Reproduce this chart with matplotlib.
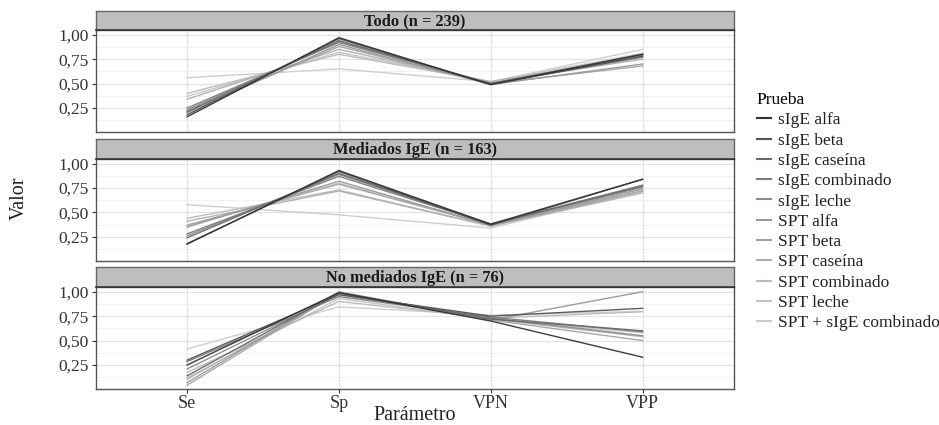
import numpy as np
import matplotlib
matplotlib.use("Agg")
import matplotlib.pyplot as plt
from matplotlib.lines import Line2D

plt.rcParams['font.family'] = ['Liberation Serif', 'DejaVu Serif']

parametros = ["Se", "Sp", "VPN", "VPP"]
pruebas = ["sIgE alfa", "sIgE beta", "sIgE caseína", "sIgE combinado", "sIgE leche",
           "SPT alfa", "SPT beta", "SPT caseína", "SPT combinado", "SPT leche",
           "SPT + sIgE combinado"]
paneles = ["Todo (n = 239)", "Mediados IgE (n = 163)", "No mediados IgE (n = 76)"]

todo = [
    [0.16, 0.97, 0.49, 0.80],
    [0.18, 0.96, 0.49, 0.78],
    [0.21, 0.94, 0.50, 0.80],
    [0.25, 0.92, 0.50, 0.77],
    [0.23, 0.93, 0.50, 0.79],
    [0.20, 0.90, 0.49, 0.70],
    [0.22, 0.88, 0.50, 0.68],
    [0.34, 0.85, 0.51, 0.75],
    [0.40, 0.80, 0.52, 0.78],
    [0.37, 0.82, 0.52, 0.81],
    [0.56, 0.65, 0.52, 0.85],
]
mediados = [
    [0.175, 0.93, 0.38, 0.84],
    [0.18, 0.92, 0.37, 0.84],
    [0.24, 0.90, 0.38, 0.77],
    [0.28, 0.87, 0.38, 0.78],
    [0.26, 0.89, 0.38, 0.76],
    [0.35, 0.82, 0.37, 0.74],
    [0.37, 0.79, 0.37, 0.72],
    [0.41, 0.72, 0.36, 0.70],
    [0.44, 0.73, 0.36, 0.72],
    [0.36, 0.80, 0.37, 0.75],
    [0.58, 0.475, 0.34, 0.72],
]
no_mediados = [
    [0.25, 0.99, 0.70, 0.33],
    [0.30, 0.97, 0.75, 0.83],
    [0.14, 0.99, 0.72, 0.60],
    [0.285, 0.95, 0.74, 0.59],
    [0.21, 0.97, 0.73, 0.55],
    [0.07, 1.00, 0.71, 1.00],
    [0.044, 0.99, 0.71, 0.50],
    [0.105, 0.98, 0.72, 0.54],
    [0.175, 0.90, 0.73, 0.795],
    [0.12, 0.93, 0.72, 0.58],
    [0.415, 0.845, 0.76, 0.80],
]
datos = [todo, mediados, no_mediados]

# ggplot scale_colour_grey(start=0.2, end=0.8), gamma 2.2
n = len(pruebas)
g = np.linspace(0.2 ** 2.2, 0.8 ** 2.2, n) ** (1 / 2.2)
colores = [(v, v, v) for v in g]

W, H = 939, 425
fig = plt.figure(figsize=(W / 100, H / 100), dpi=100)

left, right = 96, 733.7
strips = [(11, 30), (139, 159), (267, 287)]
plots = [(30, 132), (159, 260.7), (287, 389)]

x = np.arange(1, 5)
for k in range(3):
    st, sb = strips[k]
    pt, pb = plots[k]
    ax = fig.add_axes([left / W, 1 - pb / H, (right - left) / W, (pb - pt) / H])
    ax.set_xlim(0.4, 4.6)
    ax.set_ylim(0.005, 1.048)
    ax.set_yticks([0.25, 0.5, 0.75, 1.0])
    ax.set_yticklabels(["0,25", "0,50", "0,75", "1,00"])
    ax.set_yticks([0.125, 0.375, 0.625, 0.875], minor=True)
    ax.set_xticks(x)
    ax.grid(True, which='major', color='#E4E4E4', lw=0.9)
    ax.grid(True, which='minor', axis='y', color='#F0F0F0', lw=0.6)
    ax.set_axisbelow(True)
    for i, serie in enumerate(datos[k]):
        ax.plot(x, serie, color=colores[i], lw=1.0, alpha=0.95, zorder=3 + (n - i))
    for s in ax.spines.values():
        s.set_color('#555555')
        s.set_linewidth(1.0)
    ax.tick_params(axis='y', which='major', length=3, color='#333333', labelsize=12.5,
                   labelcolor='#333333', pad=2)
    ax.tick_params(axis='y', which='minor', length=0)
    if k < 2:
        ax.tick_params(axis='x', length=0, labelbottom=False)
    else:
        ax.set_xticklabels(parametros)
        ax.tick_params(axis='x', length=3, color='#333333', labelsize=13,
                       labelcolor='#333333', pad=1)
    sax = fig.add_axes([left / W, 1 - sb / H, (right - left) / W, (sb - st) / H])
    sax.set_facecolor('#BEBEBE')
    sax.set_xticks([]); sax.set_yticks([])
    for s in sax.spines.values():
        s.set_color('#666666')
        s.set_linewidth(1.0)
    sax.spines['bottom'].set_color('#333333')
    sax.spines['bottom'].set_linewidth(1.2)
    sax.text(0.5, 0.45, paneles[k], ha='center', va='center', fontsize=11.8,
             fontweight='bold', color='#1A1A1A', transform=sax.transAxes)

fig.text(415 / W, 1 - 415 / H, "Parámetro", ha='center', va='center',
         fontsize=14.5, color='#222222')
fig.text(19 / W, 1 - 198 / H, "Valor", rotation=90, ha='center', va='center',
         fontsize=14.5, color='#222222')

handles = [Line2D([0], [0], color=c, lw=1.5) for c in colores]
leg = fig.legend(handles, pruebas, title="Prueba", loc='upper left',
                 bbox_to_anchor=(750 / W, 1 - 85 / H), frameon=False,
                 fontsize=12.5, title_fontsize=12.5, handlelength=0.8,
                 handletextpad=0.4, labelspacing=0.24, borderaxespad=0)
leg._legend_box.align = "left"
for t in leg.get_texts():
    t.set_color('#222222')

fig.savefig("out.png", dpi=100)
